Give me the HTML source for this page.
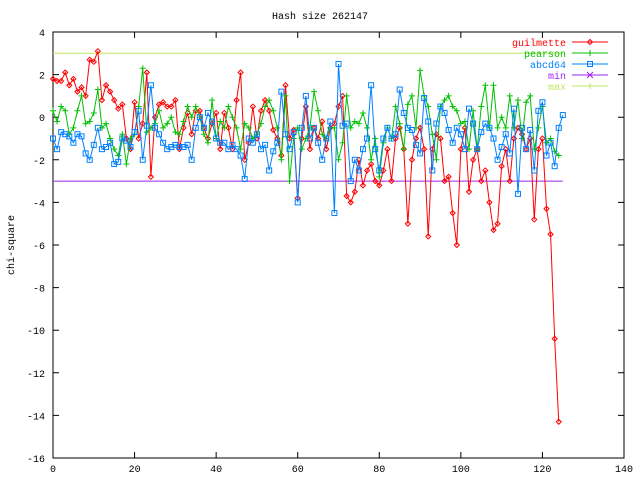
<!DOCTYPE html>
<html><head><meta charset="utf-8"><style>
html,body{margin:0;padding:0;background:#fff;}
svg{display:block;font-family:"Liberation Mono",monospace;font-size:10px;}
</style></head><body>
<svg id="chart" width="640" height="480" xmlns="http://www.w3.org/2000/svg">
<rect width="640" height="480" fill="#fff"/>
<text x="320" y="19" text-anchor="middle">Hash size 262147</text>
<text transform="translate(14,245) rotate(-90)" text-anchor="middle">chi-square</text>
<g id="axes"></g><g id="series"></g><g id="legend"></g>
</svg>
<script>
const xTicks=[0,20,40,60,80,100,120,140];
const yTicks=[4,2,0,-2,-4,-6,-8,-10,-12,-14,-16];
const guilmette=[1.8,1.7,1.7,2.1,1.5,1.8,1.2,1.4,1.0,2.7,2.6,3.1,0.8,1.5,1.2,0.8,0.4,0.6,-1.0,-1.5,0.7,-1.0,-0.3,2.1,-2.8,0.0,0.6,0.7,0.5,0.5,0.8,-1.5,-0.5,0.2,-0.8,0.3,0.3,-0.5,-1.0,-0.3,0.2,-1.5,0.2,-0.5,-1.5,0.8,2.1,-2.0,-1.2,0.5,-1.0,0.3,0.8,0.3,-0.6,-1.0,-1.8,1.5,-1.0,-0.6,-3.8,-1.0,0.5,-1.5,-0.5,-1.0,-0.2,-1.5,-0.5,-0.3,0.5,1.0,-3.7,-4.0,-3.5,-2.0,-3.2,-2.5,-2.2,-3.0,-3.2,-2.5,-1.5,-3.0,-1.0,-0.5,-1.5,-5.0,-2.0,-1.0,-0.5,-1.5,-5.6,-1.5,-0.8,-1.0,-3.0,-2.8,-4.5,-6.0,-1.5,-0.5,-3.5,-2.0,-1.5,-3.0,-2.5,-4.0,-5.3,-5.0,-2.3,-1.5,-3.0,-1.0,-0.5,-0.8,-1.5,-1.0,-4.8,-1.5,-1.0,-4.3,-5.5,-10.4,-14.3];
const pearson=[0.3,-0.2,0.5,0.3,-0.8,-0.5,0.3,1.0,-0.3,-0.2,0.2,1.3,-0.5,-0.3,-1.0,-1.5,-1.8,-0.8,-2.2,-1.0,-0.8,0.5,2.3,-0.7,-0.5,-0.3,0.3,-0.5,-0.3,0.0,-0.7,-0.8,-0.2,0.5,0,0.5,0.0,-0.8,-1.2,0.8,-1.0,-0.2,-0.5,0.5,0.0,-0.5,-1.5,-0.3,-0.5,-1.0,-0.8,-0.3,0.5,0.8,0.3,-0.5,-2.0,1.0,-3.0,-1.0,-0.5,-1.5,-1.0,-0.5,1.2,0.3,-0.8,-1.0,-0.5,-0.5,-2.0,-1.2,1.0,-0.5,-0.2,-0.3,0.2,-0.5,-2.0,-1.0,-2.8,-1.2,-0.5,-1.0,0.5,-0.3,-1.5,0.6,1.0,-0.5,2.2,1.0,0.5,-0.8,-2.0,0.5,0.8,1.0,0.5,0.3,-0.3,-0.2,-1.5,0.3,-1.5,0.5,1.5,-0.5,1.5,-0.5,0.0,-0.5,1.0,-0.5,0.8,-1.0,0.7,1.0,-1.5,-0.5,0.5,-1.2,-1.0,-1.6,-1.8];
const abcd64=[-1.0,-1.5,-0.7,-0.8,-0.9,-1.2,-0.8,-0.9,-1.7,-2.0,-1.3,-0.5,-1.5,-1.4,-1.2,-2.2,-2.1,-1.0,-1.1,-1.4,-0.7,0.3,-2.0,-0.4,1.5,-0.5,-0.8,-1.2,-1.5,-1.4,-1.3,-1.4,-1.4,-1.3,-2.0,-0.5,0.0,-0.5,0.2,-0.2,-1.0,-1.2,-1.2,-1.5,-1.3,-1.5,-1.8,-2.9,-1.0,-1.2,-0.8,-1.5,-1.3,-2.5,-1.6,-1.2,1.2,-0.8,-1.5,-0.7,-4.0,-0.5,1.0,-1.0,-0.5,-1.2,-2.0,-1.0,-0.2,-4.5,2.5,-0.4,-0.3,-3.0,-2.0,-2.5,-1.5,-1.0,1.5,-1.5,-2.5,-1.0,-0.5,-1.0,-0.8,1.3,0.2,-0.5,-0.6,-1.3,-1.7,0.9,-0.2,-2.5,-0.3,0.5,0.2,-0.6,-1.2,-0.5,-0.8,-1.5,0.4,-0.3,-1.5,-0.7,-0.3,-0.5,-1.0,-2.0,-1.4,-0.8,-1.7,0.4,-3.6,-0.5,-1.5,-0.6,-2.5,0.3,0.7,-1.8,-1.2,-2.3,-0.5,0.1];
const minVal=-3, maxVal=3, xStart=0, xEnd=125;

const L=53,R=624,T=32,B=458,X0=0,X1=140,Y0=-16,Y1=4;
const sx=v=>L+(v-X0)/(X1-X0)*(R-L);
const sy=v=>B-(v-Y0)/(Y1-Y0)*(B-T);
const NS="http://www.w3.org/2000/svg";
function mk(tag,attrs,parent){const e=document.createElementNS(NS,tag);for(const k in attrs)e.setAttribute(k,attrs[k]);parent.appendChild(e);return e;}
const axes=document.getElementById('axes'),ser=document.getElementById('series'),leg=document.getElementById('legend');
const frame=mk('rect',{x:L,y:T,width:R-L,height:B-T,fill:'none',stroke:'#000','stroke-width':1},axes);


xTicks.forEach(t=>{const x=sx(t);
 const l=mk('path',{d:`M${x},${B}v-6M${x},${T}v6`,stroke:'#000'},axes);
 
 
 const tx=mk('text',{x:x,y:B+14,'text-anchor':'middle'},axes);tx.textContent=t;
 
 });
yTicks.forEach(t=>{const y=sy(t);
 const l=mk('path',{d:`M${L},${y}h6M${R},${y}h-6`,stroke:'#000'},axes);
 
 
 const tx=mk('text',{x:L-8,y:y+4,'text-anchor':'end'},axes);tx.textContent=t;
 
 });
const hmin=mk('path',{d:`M${sx(xStart)},${sy(minVal)}H${sx(xEnd)}`,stroke:'#a020f0'},ser);


const hmax=mk('path',{d:`M${sx(xStart)},${sy(maxVal)}H${sx(xEnd)}`,stroke:'#c0e860'},ser);


function marker(kind,x,y,c){
 if(kind==='d')return `<path d="M${x},${y-2.5}l2.5,2.5l-2.5,2.5l-2.5,-2.5z" fill="none" stroke="${c}"/>`;
 if(kind==='p')return `<path d="M${x-3},${y}h6M${x},${y-3}v6" stroke="${c}"/>`;
 return `<rect x="${x-2.5}" y="${y-2.5}" width="5" height="5" fill="none" stroke="${c}"/>`;}
function series(name,vals,color,kind){
 const g=mk('g',{},ser);
 
 
 const pts=vals.map((v,i)=>[sx(i),sy(v)]);
 const p=mk('polyline',{points:pts.map(q=>q.join(',')).join(' '),fill:'none',stroke:color,'stroke-width':1},g);
 
 
 g.insertAdjacentHTML('beforeend',pts.map(q=>marker(kind,q[0],q[1],color)).join(''));}
series('guilmette',guilmette,'#ff0000','d');
series('pearson',pearson,'#00c000','p');
series('abcd64',abcd64,'#0080ff','s');
const entries=[['guilmette','#ff0000','d'],['pearson','#00c000','p'],['abcd64','#0080ff','s'],['min','#a020f0','x'],['max','#c0e860','p']];
entries.forEach((e,i)=>{const y=42+i*11;
 const g=mk('g',{},leg);
 
 
 const t=mk('text',{x:566,y:y+4,'text-anchor':'end',fill:e[1]},g);t.textContent=e[0];
 mk('path',{d:`M572,${y}H608`,stroke:e[1]},g);
 if(e[2]==='x')g.insertAdjacentHTML('beforeend',`<path d="M587,${y-3}l6,6M587,${y+3}l6,-6" stroke="${e[1]}"/>`);
 else g.insertAdjacentHTML('beforeend',marker(e[2],590,y,e[1]));});
</script>
</body></html>
